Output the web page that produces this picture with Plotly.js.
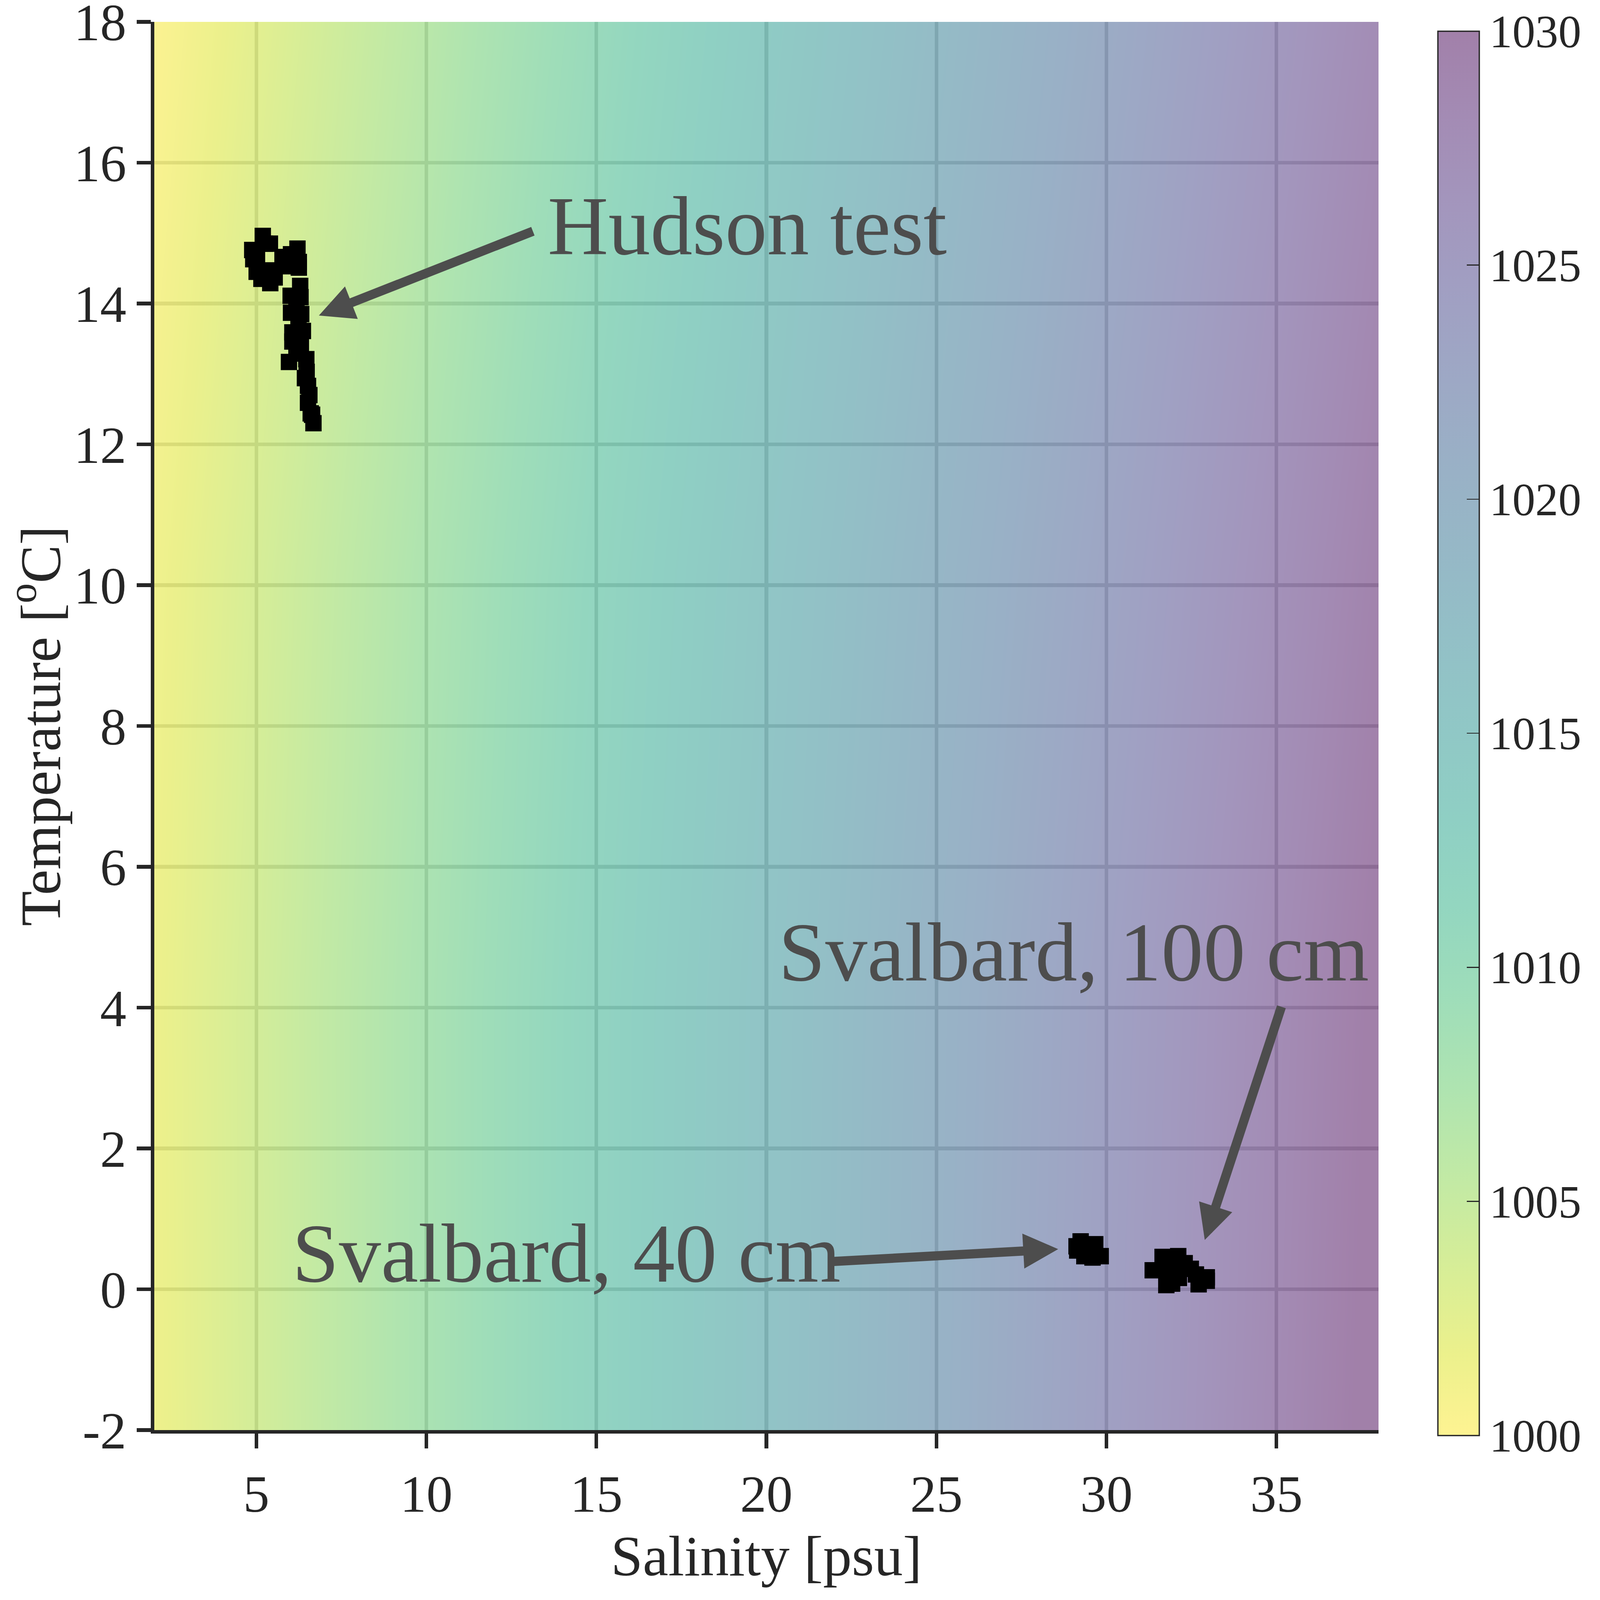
<!DOCTYPE html>
<html>
<head>
<meta charset="utf-8">
<script src="https://cdn.plot.ly/plotly-3.0.1.min.js"></script>
<style>html,body{margin:0;padding:0;background:#fff;overflow:hidden;}</style>
</head>
<body>
<div id="chart"></div>
<script>
// ---- data ----
// background density field (kg/m^3) sampled on a coarse grid
const gridSalinity = [2, 10, 20, 30, 38];
const gridTemperature = [-2, 4, 10, 18];
const densityAtMinus2 = [1001.5, 1007.9, 1016.0, 1024.2, 1030.6];
const densityAt4      = [1001.6, 1007.9, 1015.9, 1023.9, 1030.3];
const densityAt10     = [1001.3, 1007.5, 1015.4, 1023.1, 1029.4];
const densityAt18     = [1000.2, 1006.3, 1014.1, 1021.7, 1027.9];

// Hudson test profile
const hudsonS = [5.19, 5.40, 4.88, 4.91, 5.01, 5.15, 5.41, 5.54, 5.79, 6.02, 6.21, 6.25, 6.25, 6.01,
                 5.02, 5.39, 5.77, 5.25,
                 6.29, 6.30, 6.01, 6.18, 6.02, 6.32, 6.24, 6.37, 6.06, 6.06, 6.31, 6.18, 5.96, 6.47,
                 6.48, 6.43, 6.52, 6.56, 6.52, 6.64, 6.60, 6.68];
const hudsonT = [14.96, 14.85, 14.76, 14.63, 14.45, 14.35, 14.29, 14.37, 14.59, 14.70, 14.78, 14.59, 14.51, 14.53,
                 14.62, 14.47, 14.66, 14.85,
                 14.25, 14.09, 14.11, 13.98, 13.87, 13.85, 13.72, 13.61, 13.59, 13.46, 13.40, 13.29, 13.17, 13.21,
                 13.03, 12.94, 12.83, 12.70, 12.59, 12.42, 12.44, 12.30];

// Svalbard, 40 cm
const sval40S = [29.24, 29.12, 29.14, 29.35, 29.59, 29.67, 29.83, 29.46];
const sval40T = [0.68, 0.61, 0.55, 0.47, 0.45, 0.64, 0.47, 0.62];

// Svalbard, 100 cm
const sval100S = [31.65, 32.11, 32.30, 32.48, 32.63, 31.36, 31.76, 31.93, 32.71, 32.95, 32.95, 31.78, 32.10, 32.13];
const sval100T = [0.46, 0.47, 0.37, 0.29, 0.21, 0.27, 0.06, 0.08, 0.07, 0.17, 0.12, 0.28, 0.28, 0.16];

// axis ticks
const xTicks = [5, 10, 15, 20, 25, 30, 35];
const yTicks = [-2, 0, 2, 4, 6, 8, 10, 12, 14, 16, 18];
const cbTicks = [1000, 1005, 1010, 1015, 1020, 1025, 1030];

// labels
const labelHudson = 'Hudson test';
const label100 = 'Svalbard, 100 cm';
const label40 = 'Svalbard, 40 cm';

// ---- styling ----
const viridis = [
  [0, '#440154'], [0.06274509803921569, '#48186a'], [0.12549019607843137, '#472d7b'],
  [0.18823529411764706, '#424086'], [0.25098039215686274, '#3b528b'], [0.3137254901960784, '#33638d'],
  [0.3764705882352941, '#2c728e'], [0.4392156862745098, '#26828e'], [0.5019607843137255, '#21918c'],
  [0.5647058823529412, '#1fa088'], [0.6274509803921569, '#28ae80'], [0.6901960784313725, '#3fbc73'],
  [0.7529411764705882, '#5ec962'], [0.8156862745098039, '#84d44b'], [0.8784313725490196, '#addc30'],
  [0.9411764705882353, '#d8e219'], [1, '#fde725']
];
function rgba(hex, a) {
  const r = parseInt(hex.slice(1,3),16), g = parseInt(hex.slice(3,5),16), b = parseInt(hex.slice(5,7),16);
  return 'rgba(' + r + ',' + g + ',' + b + ',' + a + ')';
}
const colorscale = viridis.map(s => [1 - s[0], rgba(s[1], 0.5)]).reverse();

// reference canvas is 4874 x 4523; fit the actual viewport proportionally
const REF_W = 4874, REF_H = 4523;
const W = document.documentElement.clientWidth || window.innerWidth || REF_W;
const H = document.documentElement.clientHeight || window.innerHeight || REF_H;
const fx = W / REF_W, fy = H / REF_H, fs = Math.min(fx, fy), fm = (fx + fy) / 2;

const FONT = 'Liberation Serif, Times New Roman, serif';
const INK = '#262626';
const NOTE = '#4d4d4d';

const ML = 470, MR = 639, MT = 62, MB = 480;
const plotW = REF_W - ML - MR, plotH = REF_H - MT - MB;

const traces = [
  {
    type: 'heatmap',
    x: gridSalinity,
    y: gridTemperature,
    z: [densityAtMinus2, densityAt4, densityAt10, densityAt18],
    zsmooth: 'best',
    zmin: 1000, zmax: 1030,
    colorscale: colorscale,
    hoverinfo: 'skip',
    colorbar: {
      x: (4418 - ML) / plotW, xanchor: 'left', xref: 'paper',
      y: (REF_H - MB - 4058) / plotH, yanchor: 'bottom', yref: 'paper',
      len: (4058 - 88) / plotH, lenmode: 'fraction',
      thickness: 126 * fx, thicknessmode: 'pixels',
      xpad: 0, ypad: 0,
      outlinewidth: 4 * fs, outlinecolor: INK,
      tickmode: 'array', tickvals: cbTicks, ticktext: cbTicks.map(String),
      ticks: 'inside', ticklen: 40 * fx, tickwidth: 3 * fs, tickcolor: INK,
      tickfont: {family: FONT, size: 140 * fs, color: INK}
    }
  },
  {type: 'scatter', mode: 'markers', x: hudsonS, y: hudsonT, hoverinfo: 'skip',
   marker: {symbol: 'square', size: 48 * fm, color: '#000000', line: {width: 0}}, showlegend: false},
  {type: 'scatter', mode: 'markers', x: sval40S, y: sval40T, hoverinfo: 'skip',
   marker: {symbol: 'square', size: 48 * fm, color: '#000000', line: {width: 0}}, showlegend: false},
  {type: 'scatter', mode: 'markers', x: sval100S, y: sval100T, hoverinfo: 'skip',
   marker: {symbol: 'square', size: 48 * fm, color: '#000000', line: {width: 0}}, showlegend: false}
];

function arrow(tail, tip) {
  return {x: tip[0], y: tip[1], ax: tail[0], ay: tail[1], xref: 'x', yref: 'y', axref: 'x', ayref: 'y',
          text: '', showarrow: true, arrowhead: 2, arrowsize: 0.76, arrowwidth: 28 * fs, arrowcolor: NOTE, standoff: 0};
}
function label(txt, pos) {
  return {x: pos[0], y: pos[1], xref: 'x', yref: 'y', text: txt, showarrow: false,
          xanchor: 'left', yanchor: 'middle', font: {family: FONT, size: 256 * fs, color: NOTE}};
}

const layout = {
  width: W, height: H,
  margin: {l: ML * fx, r: MR * fx, t: MT * fy, b: MB * fy, pad: 0},
  paper_bgcolor: '#ffffff', plot_bgcolor: '#ffffff',
  showlegend: false,
  xaxis: {
    range: [2, 38], tickmode: 'array', tickvals: xTicks, ticktext: xTicks.map(String),
    showgrid: true, gridcolor: '#d4d4d4', gridwidth: 11 * fs, zeroline: false,
    showline: true, linecolor: INK, linewidth: 11 * fs, mirror: false,
    ticks: 'outside', ticklen: 42 * fy, tickwidth: 11 * fs, tickcolor: INK,
    ticklabelstandoff: 30 * fy, ticklabeloverflow: 'allow',
    tickfont: {family: FONT, size: 160 * fs, color: INK},
    title: {text: 'Salinity [psu]', font: {family: FONT, size: 175 * fs, color: INK}, standoff: 40 * fy},
    automargin: false
  },
  yaxis: {
    range: [-2, 18], tickmode: 'array', tickvals: yTicks, ticktext: yTicks.map(String),
    showgrid: true, gridcolor: '#d4d4d4', gridwidth: 11 * fs, zeroline: false,
    showline: true, linecolor: INK, linewidth: 11 * fs, mirror: false,
    ticks: 'outside', ticklen: 42 * fx, tickwidth: 11 * fs, tickcolor: INK,
    ticklabelstandoff: 5 * fx, ticklabeloverflow: 'allow',
    tickfont: {family: FONT, size: 160 * fs, color: INK},
    title: {text: 'Temperature [<sup>o</sup>C]', font: {family: FONT, size: 175 * fs, color: INK}, standoff: 30 * fx},
    automargin: false
  },
  annotations: [
    label(labelHudson, [13.55, 15.10]),
    label(label100, [20.33, 4.79]),
    label(label40, [6.03, 0.51]),
    arrow([13.15, 15.03], [6.84, 13.83]),
    arrow([35.15, 4.02], [32.89, 0.70]),
    arrow([21.81, 0.39], [28.58, 0.57])
  ]
};

Plotly.newPlot('chart', traces, layout, {staticPlot: true, displayModeBar: false});
</script>
</body>
</html>
